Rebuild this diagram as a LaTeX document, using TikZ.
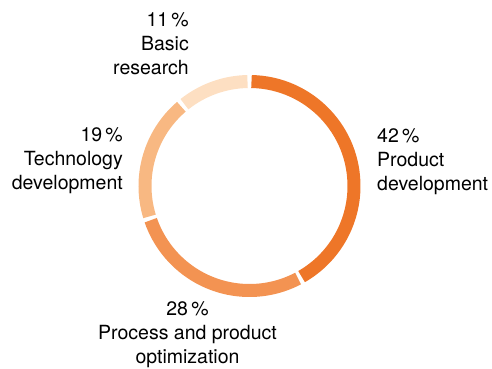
\documentclass[tikz,border=0pt]{standalone}
\usepackage{fontspec}
\setmainfont{TeX Gyre Heros}
\definecolor{segA}{RGB}{238,118,40}
\definecolor{segB}{RGB}{243,147,82}
\definecolor{segC}{RGB}{248,184,130}
\definecolor{segD}{RGB}{253,223,194}
\begin{document}
\begin{tikzpicture}[x=1pt,y=1pt,
  seg/.style={line width=13pt},
  lbl/.style={inner sep=0pt,font=\fontsize{19.5}{24}\selectfont}]
\useasboundingbox (-249.5,-182) rectangle (242.5,186);
% ring segments
\draw[seg,segA] (88.9:104.5) arc (88.9:-60.1:104.5);
\draw[seg,segB] (-62.3:104.5) arc (-62.3:-160.9:104.5);
\draw[seg,segC] (-163.1:104.5) arc (-163.1:-229.3:104.5);
\draw[seg,segD] (-231.5:104.5) arc (-231.5:-268.9:104.5);

% labels
\node[lbl,anchor=base west,align=left] (prod) at (127.5,-4) {42\,\%\\Product\\development};
\node[lbl,anchor=base,align=center] (proc) at (-62,-177) {28\,\%\\Process and product\\optimization};
\node[lbl,anchor=base east,align=right] (tech) at (-126.5,-3) {19\,\%\\Technology\\development};
\node[lbl,anchor=base east,align=right] (basic) at (-60.5,112) {11\,\%\\Basic\\research};
\end{tikzpicture}
\end{document}
